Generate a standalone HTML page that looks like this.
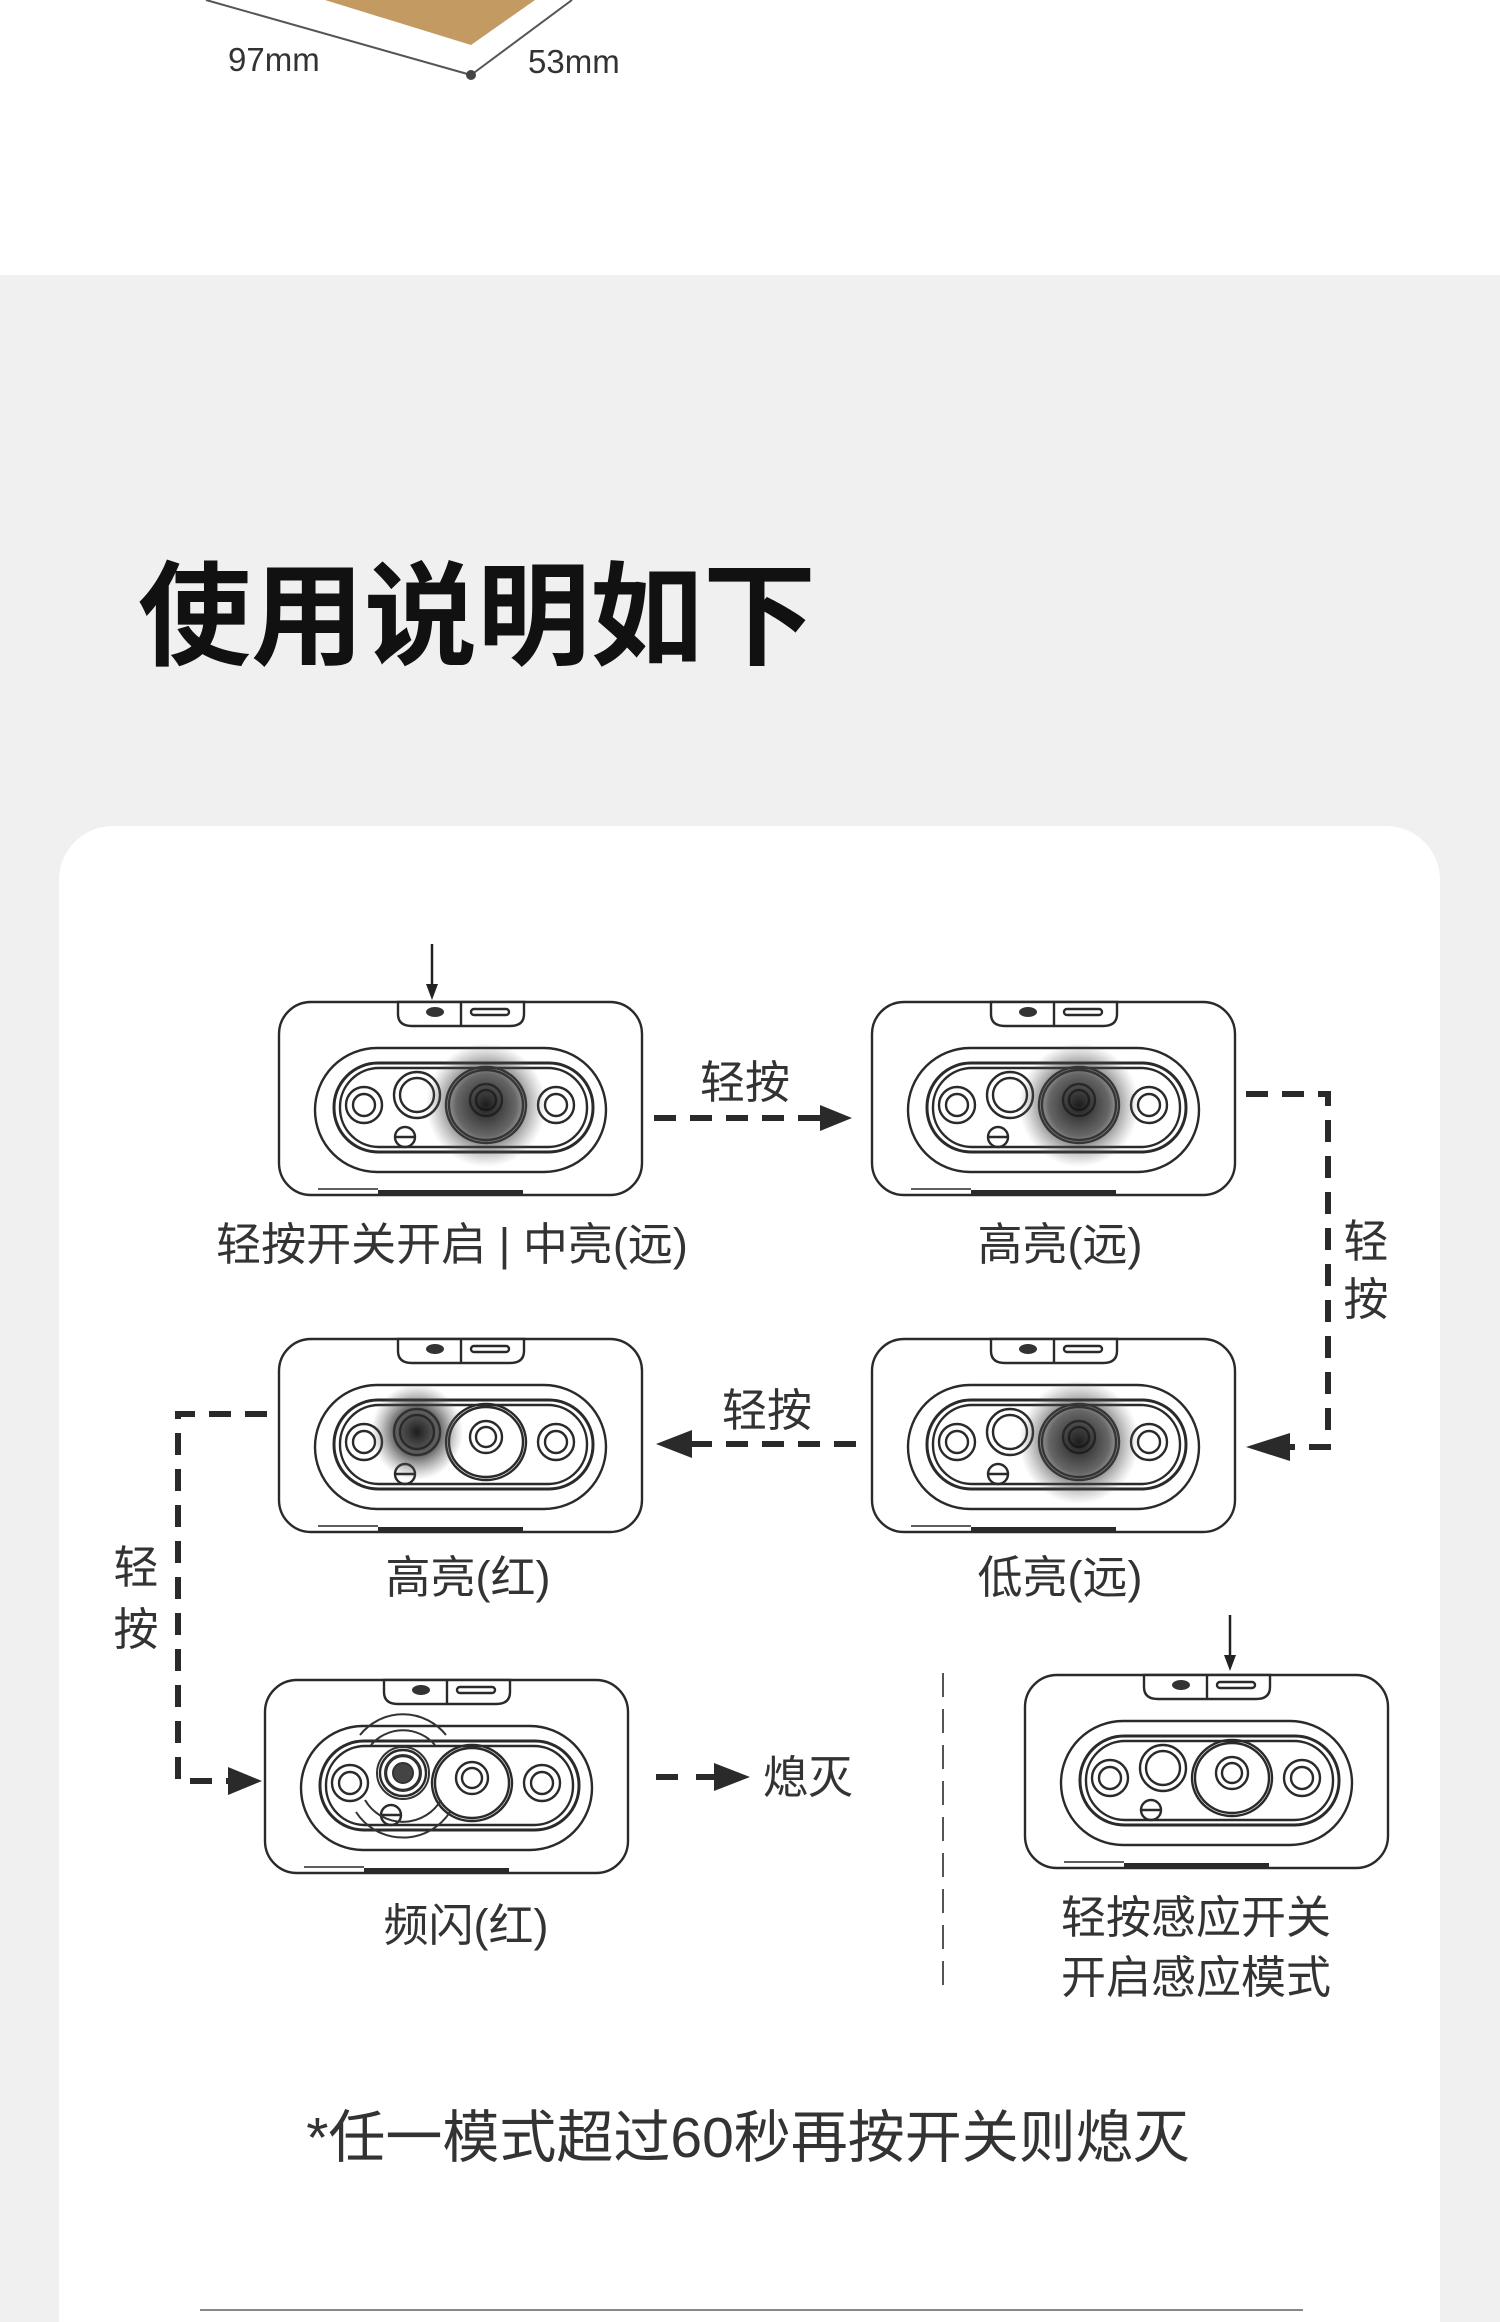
<!DOCTYPE html>
<html><head><meta charset="utf-8"><style>
html,body{margin:0;padding:0;background:#fff}
svg{display:block}
text{font-family:"Liberation Sans","Noto Sans CJK SC",sans-serif}
</style></head><body>
<svg width="1500" height="2322" viewBox="0 0 1500 2322" xmlns="http://www.w3.org/2000/svg">
<defs>
<radialGradient id="glow" cx="0.5" cy="0.5" r="0.5">
<stop offset="0" stop-color="#111" stop-opacity="0.95"/>
<stop offset="0.5" stop-color="#333" stop-opacity="0.75"/>
<stop offset="1" stop-color="#666" stop-opacity="0"/>
</radialGradient>
<g id="dev" fill="none" stroke="#2a2a2a" stroke-width="2.4">
<rect x="1" y="2" width="363" height="193" rx="32" fill="#fff"/>
<path d="M120 2 H246 V14 Q246 26 232 26 H134 Q120 26 120 14 Z" fill="#fff"/>
<line x1="183" y1="2" x2="183" y2="26"/>
<ellipse cx="157" cy="12" rx="9" ry="5" fill="#333" stroke="none"/>
<rect x="193" y="9" width="38" height="6" rx="3"/>
<rect x="37" y="48" width="291" height="124" rx="62"/>
<rect x="56" y="63" width="259" height="89" rx="44" stroke-width="3"/>
<rect x="62" y="68" width="247" height="79" rx="39"/>
<circle cx="86" cy="105" r="18"/><circle cx="86" cy="105" r="11"/>
<circle cx="139" cy="95" r="23"/><circle cx="139" cy="95" r="17"/>
<ellipse cx="208" cy="105" rx="40" ry="38"/><ellipse cx="208" cy="105" rx="37" ry="35"/>
<circle cx="208" cy="100" r="16"/><circle cx="208" cy="100" r="10"/>
<circle cx="278" cy="105" r="18"/><circle cx="278" cy="105" r="11"/>
<circle cx="127" cy="137" r="10"/><line x1="117" y1="137" x2="137" y2="137"/>
<line x1="40" y1="189" x2="100" y2="189" stroke-width="1.5"/>
<line x1="100" y1="192" x2="245" y2="192" stroke-width="4"/>
</g>
<g id="dn" fill="#222"><line x1="0" y1="0" x2="0" y2="48" stroke="#222" stroke-width="2.5"/><polygon points="-6,40 6,40 0,56"/></g>
</defs>

<rect x="0" y="0" width="1500" height="275" fill="#fff"/>
<polygon points="325,0 535,0 471,45" fill="#c49a63"/>
<line x1="206" y1="0" x2="471" y2="75" stroke="#555" stroke-width="2"/>
<line x1="471" y1="75" x2="572" y2="0" stroke="#555" stroke-width="2"/>
<circle cx="471" cy="75" r="5" fill="#444"/>
<text x="228" y="71" font-size="33" fill="#333">97mm</text>
<text x="528" y="73" font-size="33" fill="#333">53mm</text>

<rect x="0" y="275" width="1500" height="2047" fill="#f0f0f0"/>
<text x="138" y="656" font-size="113" font-weight="bold" fill="#111">使用说明如下</text>

<rect x="59" y="826" width="1381" height="1560" rx="54" fill="#fff"/>

<use href="#dev" x="278" y="1000"/>
<ellipse cx="486" cy="1105" rx="60" ry="62" fill="url(#glow)"/>
<use href="#dn" x="432" y="944"/>

<use href="#dev" x="871" y="1000"/>
<ellipse cx="1079" cy="1105" rx="60" ry="62" fill="url(#glow)"/>

<use href="#dev" x="278" y="1337"/>
<ellipse cx="417" cy="1432" rx="46" ry="48" fill="url(#glow)"/>

<use href="#dev" x="871" y="1337"/>
<ellipse cx="1079" cy="1442" rx="60" ry="62" fill="url(#glow)"/>

<use href="#dev" x="264" y="1678"/>
<g fill="none" stroke="#333" stroke-width="2">
<circle cx="403" cy="1773" r="10" fill="#444"/>
<circle cx="403" cy="1773" r="18"/><circle cx="403" cy="1773" r="26"/>
<path d="M371 1745 A42 42 0 0 1 435 1745"/><path d="M365 1800 A44 44 0 0 0 441 1800"/>
<path d="M360 1735 A55 55 0 0 1 446 1735"/><path d="M356 1812 A56 56 0 0 0 450 1812"/>
</g>

<use href="#dev" x="1024" y="1673"/>
<use href="#dn" x="1230" y="1615"/>

<g stroke="#2a2a2a" stroke-width="6" fill="none" stroke-dasharray="22 14">
<line x1="654" y1="1118" x2="820" y2="1118"/>
<polyline points="1246,1094 1328,1094 1328,1447 1290,1447"/>
<line x1="856" y1="1444" x2="690" y2="1444"/>
<polyline points="267,1414 178,1414 178,1781 228,1781"/>
</g>
<g fill="#2a2a2a">
<polygon points="820,1105 852,1118 820,1131"/>
<polygon points="1290,1433 1246,1447 1290,1461"/>
<polygon points="692,1430 656,1444 692,1458"/>
<polygon points="228,1767 262,1781 228,1795"/>
<rect x="656" y="1774" width="22" height="6"/>
<rect x="696" y="1774" width="20" height="6"/>
<polygon points="714,1763 750,1777 714,1791"/>
</g>
<line x1="943" y1="1673" x2="943" y2="1992" stroke="#555" stroke-width="2" stroke-dasharray="24 12"/>

<g fill="#333" font-size="45">
<text x="745" y="1098" text-anchor="middle">轻按</text>
<text x="767" y="1426" text-anchor="middle">轻按</text>
<text x="1366" y="1257" text-anchor="middle">轻</text>
<text x="1366" y="1315" text-anchor="middle">按</text>
<text x="136" y="1583" text-anchor="middle">轻</text>
<text x="136" y="1645" text-anchor="middle">按</text>
<text x="763" y="1793">熄灭</text>
<text x="452" y="1260" text-anchor="middle">轻按开关开启 | 中亮(远)</text>
<text x="1060" y="1260" text-anchor="middle">高亮(远)</text>
<text x="468" y="1593" text-anchor="middle">高亮(红)</text>
<text x="1060" y="1593" text-anchor="middle">低亮(远)</text>
<text x="466" y="1941" text-anchor="middle">频闪(红)</text>
<text x="1196" y="1933" text-anchor="middle">轻按感应开关</text>
<text x="1196" y="1993" text-anchor="middle">开启感应模式</text>
</g>
<text x="748" y="2157" text-anchor="middle" font-size="57" fill="#333">*任一模式超过60秒再按开关则熄灭</text>
<line x1="200" y1="2310" x2="1303" y2="2310" stroke="#888" stroke-width="2"/>
</svg>
</body></html>
